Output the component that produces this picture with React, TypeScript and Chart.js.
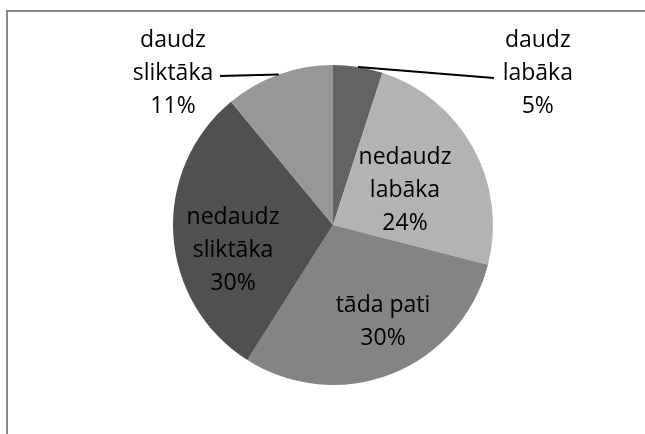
import React, { useEffect, useRef } from "react";
import { Chart, registerables } from "chart.js";

Chart.register(...registerables);

const categories = ["daudz labāka", "nedaudz labāka", "tāda pati", "nedaudz sliktāka", "daudz sliktāka"];
const labelLines = [
  ["daudz", "labāka"],
  ["nedaudz", "labāka"],
  ["tāda pati"],
  ["nedaudz", "sliktāka"],
  ["daudz", "sliktāka"],
];
const values = [5, 24, 30, 30, 11];
const colors = ["#636363", "#b3b3b3", "#848484", "#505050", "#979797"];

// label centre positions relative to pie centre, in units of radius
const labelPos: [number, number][] = [
  [1.28, -0.95],
  [0.45, -0.219],
  [0.3125, 0.606],
  [-0.625, 0.156],
  [-1.0, -0.95],
];
// leader line end points (relative to pie centre, radius units); null = none
const leaderEnd: ([number, number] | null)[] = [
  [1.006, -0.919],
  null,
  null,
  null,
  [-0.706, -0.931],
];

const FONT = "23px 'Open Sans'";
const LINE_H = 33;

const frame = {
  id: "frame",
  beforeDraw(chart: any) {
    const ctx = chart.ctx;
    ctx.save();
    ctx.strokeStyle = "#8a8a8a";
    ctx.lineWidth = 2;
    ctx.beginPath();
    ctx.moveTo(7, 434);
    ctx.lineTo(7, 11);
    ctx.lineTo(645, 11);
    ctx.stroke();
    ctx.restore();
  },
};

const labels = {
  id: "sliceLabels",
  afterDatasetsDraw(chart: any) {
    const ctx = chart.ctx;
    const meta = chart.getDatasetMeta(0);
    const total = values.reduce((a, b) => a + b, 0);
    ctx.save();
    meta.data.forEach((arc: any, i: number) => {
      const { x, y, startAngle, endAngle, outerRadius } = arc.getProps(
        ["x", "y", "startAngle", "endAngle", "outerRadius"],
        true
      );
      const R = outerRadius;
      const mid = (startAngle + endAngle) / 2;
      const le = leaderEnd[i];
      if (le) {
        ctx.strokeStyle = "#000";
        ctx.lineWidth = 2;
        ctx.beginPath();
        ctx.moveTo(x + Math.cos(mid) * R, y + Math.sin(mid) * R);
        ctx.lineTo(x + le[0] * R, y + le[1] * R);
        ctx.stroke();
      }
      const lines = [...labelLines[i], Math.round((values[i] / total) * 100) + "%"];
      const cx = x + labelPos[i][0] * R;
      const cy = y + labelPos[i][1] * R;
      ctx.font = FONT;
      ctx.fillStyle = "#000";
      ctx.textAlign = "center";
      ctx.textBaseline = "middle";
      const n = lines.length;
      lines.forEach((t, k) => {
        ctx.fillText(t, cx, cy + (k - (n - 1) / 2) * LINE_H);
      });
    });
    ctx.restore();
  },
};

export default function App() {
  const ref = useRef<HTMLCanvasElement>(null);
  useEffect(() => {
    if (!ref.current) return;
    const chart = new Chart(ref.current, {
      type: "pie",
      data: {
        labels: categories,
        datasets: [
          {
            data: values,
            backgroundColor: colors,
            borderWidth: 0,
          },
        ],
      },
      options: {
        responsive: false,
        animation: false,
        layout: { padding: { top: 65, bottom: 49, left: 173, right: 152 } },
        plugins: { legend: { display: false }, tooltip: { enabled: false } },
      },
      plugins: [frame, labels],
    });
    return () => chart.destroy();
  }, []);
  return (
    <div style={{ position: "absolute", left: 0, top: 0, width: 645, height: 434, background: "#fff" }}>
      <canvas ref={ref} width={645} height={434} />
    </div>
  );
}
